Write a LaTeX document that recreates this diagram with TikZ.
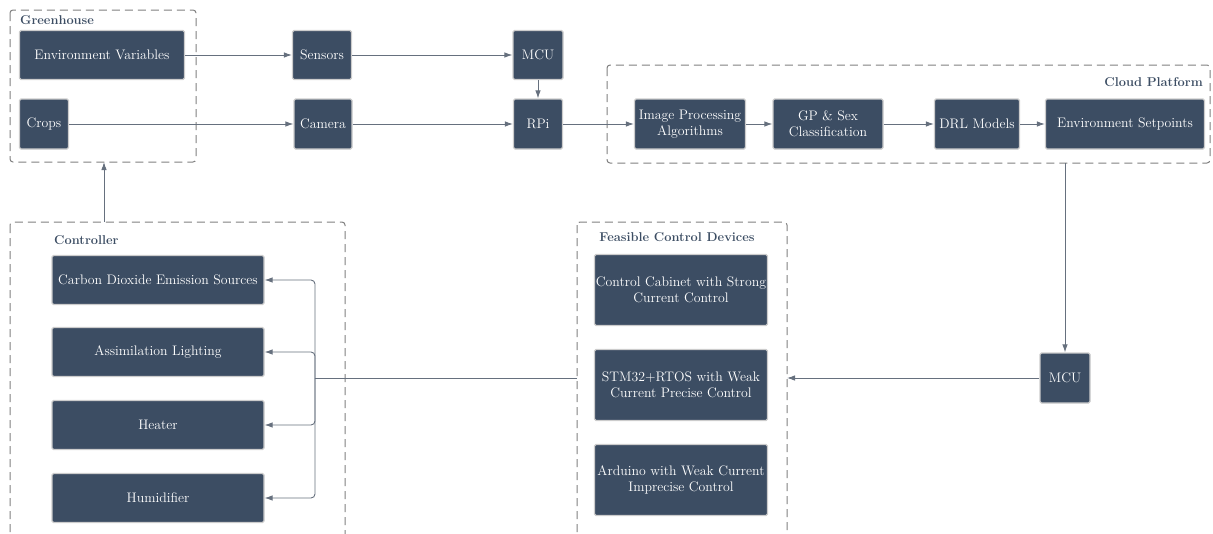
\documentclass[tikz,border=0pt]{standalone}
\usetikzlibrary{arrows.meta}
\definecolor{boxfill}{HTML}{3C4D63}
\definecolor{linegray}{HTML}{66707E}
\definecolor{dashgray}{HTML}{7F7F7F}
\tikzset{
  blk/.style={draw=gray!40, line width=1.2pt, fill=boxfill, rounded corners=1.5pt,
    text=white, align=center, inner sep=1pt, font=\fontsize{13.8}{16}\selectfont},
  arr/.style={draw=linegray, line width=0.9pt, -{Latex[length=8pt,width=5.5pt]}},
  wire/.style={draw=linegray, line width=0.9pt},
  grp/.style={draw=dashgray, line width=1pt, dash pattern=on 8pt off 5pt, rounded corners=3pt},
  grptitle/.style={text=boxfill, font=\bfseries\fontsize{12.8}{14}\selectfont, inner sep=0pt}
}
\begin{document}
\begin{tikzpicture}[x=1pt,y=-1pt]
\useasboundingbox (0,0) rectangle (1213,533);
\clip (0,0) rectangle (1213,533);
% groups
\draw[grp] (10,10) rectangle (196,162);
\draw[grp] (607,65) rectangle (1210,163);
\draw[grp] (10,222) rectangle (345,560);
\draw[grp] (577,222) rectangle (787,560);
\node[grptitle, anchor=west] (tgh) at (20,20) {Greenhouse};
\node[grptitle, anchor=east] (tcp) at (1203,82) {Cloud Platform};
\node[grptitle, anchor=west] (tct) at (54,240) {Controller};
\node[grptitle] (tfd) at (677,237) {Feasible Control Devices};
% greenhouse side
\node[blk, minimum width=165, minimum height=49] (ev) at (102,55) {Environment Variables};
\node[blk, minimum width=49, minimum height=50] (crops) at (44,124) {Crops};
\node[blk, minimum width=59, minimum height=49] (sens) at (322,55) {Sensors};
\node[blk, minimum width=58, minimum height=50] (cam) at (323,124) {Camera};
\node[blk, minimum width=50, minimum height=49] (mcu) at (538,55) {MCU};
\node[blk, minimum width=49, minimum height=50] (rpi) at (538,124) {RPi};
% cloud platform
\node[blk, minimum width=111, minimum height=50] (ip) at (690,124) {Image Processing\\Algorithms};
\node[blk, minimum width=110, minimum height=50] (gp) at (828,124) {GP \& Sex\\Classification};
\node[blk, minimum width=85, minimum height=50] (drl) at (977,124) {DRL Models};
\node[blk, minimum width=159, minimum height=50] (es) at (1125,124) {Environment Setpoints};
\node[blk, minimum width=50, minimum height=50] (mcub) at (1065,378) {MCU};
% feasible control devices
\node[blk, minimum width=173, minimum height=71] (cc) at (681,290) {Control Cabinet with Strong\\Current Control};
\node[blk, minimum width=173, minimum height=71] (stm) at (681,385) {STM32+RTOS with Weak\\Current Precise Control};
\node[blk, minimum width=173, minimum height=71] (ard) at (681,480) {Arduino with Weak Current\\Imprecise Control};
% controller
\node[blk, minimum width=212, minimum height=49] (co2) at (158,280) {Carbon Dioxide Emission Sources};
\node[blk, minimum width=212, minimum height=49] (light) at (158,352) {Assimilation Lighting};
\node[blk, minimum width=212, minimum height=49] (heat) at (158,425) {Heater};
\node[blk, minimum width=212, minimum height=49] (hum) at (158,498) {Humidifier};
% edge points of the groups
\coordinate (ghB) at (104,162);
\coordinate (ctT) at (104,222);
\coordinate (cpB) at (1065,163);
\coordinate (fdL) at (577,378);
\coordinate (fdR) at (787,378);
\coordinate (bus) at (315,378);
% connectors
\draw[arr] (ev) -- (sens);
\draw[arr] (sens) -- (mcu);
\draw[arr] (mcu) -- (rpi);
\draw[arr] (crops) -- (cam);
\draw[arr] (cam) -- (rpi);
\draw[arr] (rpi) -- (ip);
\draw[arr] (ip) -- (gp);
\draw[arr] (gp) -- (drl);
\draw[arr] (drl) -- (es);
\draw[arr] (cpB) -- (mcub);
\draw[arr] (mcub) -- (fdR);
\draw[wire] (fdL) -- (bus);
\draw[arr, rounded corners=4pt] (bus) |- (co2);
\draw[arr, rounded corners=4pt] (bus) |- (light);
\draw[arr, rounded corners=4pt] (bus) |- (heat);
\draw[arr, rounded corners=4pt] (bus) |- (hum);
\draw[arr] (ctT) -- (ghB);
\end{tikzpicture}
\end{document}
